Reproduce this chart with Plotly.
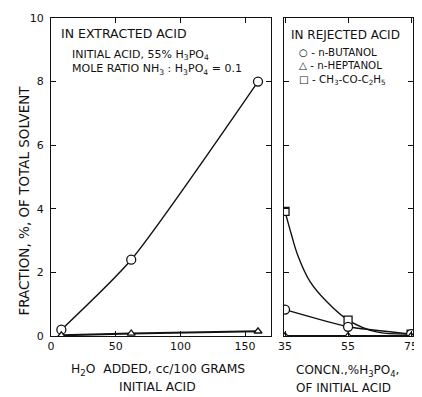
import plotly.graph_objects as go

# Left panel: in extracted acid (x = H2O added, cc/100 g initial acid)
water_added = [8, 62, 160]
butanol_extracted = [0.2, 2.4, 8.0]
heptanol_extracted = [0.02, 0.08, 0.15]

# Right panel: in rejected acid (x = concn, % H3PO4 of initial acid)
concn = [35, 55, 75]
butanol_rejected = [0.83, 0.29, 0.06]
heptanol_rejected = [0.0, 0.0, 0.0]
ketone_rejected = [3.92, 0.5, 0.06]
# hand-drawn ketone curve
ketone_curve_x = [35, 37, 39, 43, 48.5, 55, 64, 75]
ketone_curve_y = [3.92, 3.2, 2.55, 1.7, 1.05, 0.5, 0.13, 0.06]

left_xticks = [0, 50, 100, 150]
right_xticks = [35, 55, 75]
yticks = [0, 2, 4, 6, 8, 10]

FONT = "DejaVu Sans"
BLACK = "#111"

def mk(symbol, size=8):
    return dict(symbol=symbol, size=size, color="white", line=dict(color=BLACK, width=1.3))

fig = go.Figure()
fig.add_trace(go.Scatter(x=water_added, y=butanol_extracted, mode="lines+markers",
                         line=dict(color=BLACK, width=1.4, shape="spline", smoothing=0.6),
                         marker=mk("circle", 9), xaxis="x", yaxis="y", showlegend=False))
fig.add_trace(go.Scatter(x=water_added, y=heptanol_extracted, mode="lines+markers",
                         line=dict(color=BLACK, width=2),
                         marker=mk("triangle-up", 7), xaxis="x", yaxis="y", showlegend=False))
fig.add_trace(go.Scatter(x=ketone_curve_x, y=ketone_curve_y, mode="lines",
                         line=dict(color=BLACK, width=1.4, shape="spline", smoothing=1.0),
                         xaxis="x2", yaxis="y2", showlegend=False))
fig.add_trace(go.Scatter(x=concn, y=ketone_rejected, mode="markers",
                         marker=mk("square", 8), xaxis="x2", yaxis="y2", showlegend=False))
fig.add_trace(go.Scatter(x=concn, y=butanol_rejected, mode="lines+markers",
                         line=dict(color=BLACK, width=1.4, shape="spline", smoothing=0.5),
                         marker=mk("circle", 9), xaxis="x2", yaxis="y2", showlegend=False))
fig.add_trace(go.Scatter(x=concn, y=heptanol_rejected, mode="lines+markers",
                         line=dict(color=BLACK, width=2),
                         marker=mk("triangle-up", 7), xaxis="x2", yaxis="y2", showlegend=False))

axis_common = dict(showline=True, linecolor=BLACK, linewidth=1.3, mirror="ticks",
                   ticks="inside", ticklen=5, tickcolor=BLACK, showgrid=False, zeroline=False,
                   ticklabeloverflow="allow",
                   tickfont=dict(family=FONT, size=11, color=BLACK))

# page has an 8px body margin: figure coords = page coords - 8
fig.update_layout(
    width=414, height=389,
    margin=dict(l=43, r=4, t=4, b=61),
    plot_bgcolor="white", paper_bgcolor="white",
    xaxis=dict(domain=[0, 0.6076], range=[0, 170], tickvals=left_xticks, **axis_common),
    yaxis=dict(range=[0, 10], tickvals=yticks, ticklabelstandoff=4, **axis_common),
    xaxis2=dict(domain=[0.643, 1], range=[34.6, 75.6], tickvals=right_xticks, anchor="y2", **axis_common),
    yaxis2=dict(range=[0, 10], tickvals=yticks, showticklabels=False, anchor="x2", **axis_common),
)

def ann(text, x, y, xanchor="left", yanchor="middle", size=11, align="left", textangle=0):
    fig.add_annotation(text=text, x=x, y=y, xref="paper", yref="paper", showarrow=False,
                       xanchor=xanchor, yanchor=yanchor, align=align, textangle=textangle,
                       font=dict(family=FONT, size=size, color=BLACK))

W = 367.0
H = 323.0
def px(xp):
    return (xp - 51) / W
def py(yp):
    return (336 - yp) / H

ann("IN EXTRACTED ACID", px(59), py(29), size=12.5)
ann("INITIAL ACID, 55% H<sub>3</sub>PO<sub>4</sub><br>"
    "MOLE RATIO NH<sub>3</sub> : H<sub>3</sub>PO<sub>4</sub> = 0.1", px(70), py(58), size=11)
ann("IN REJECTED ACID", px(292), py(30), size=12)
ann("○ - n-BUTANOL<br>△ - n-HEPTANOL<br>□ - CH<sub>3</sub>-CO-C<sub>2</sub>H<sub>5</sub>",
    px(300), py(62), size=10.3)
ann("FRACTION, %, OF TOTAL SOLVENT", px(24), py(198), xanchor="center", size=13.5, textangle=-90)
ann("H<sub>2</sub>O  ADDED, cc/100 GRAMS", px(159), py(371), xanchor="center", size=12.3)
ann("INITIAL ACID", px(159), py(388), xanchor="center", size=12.3)
ann("CONCN.,%H<sub>3</sub>PO<sub>4</sub>,", px(352), py(372), xanchor="center", size=12)
ann("OF INITIAL ACID", px(348), py(389), xanchor="center", size=12)

fig.write_html("out.html")
